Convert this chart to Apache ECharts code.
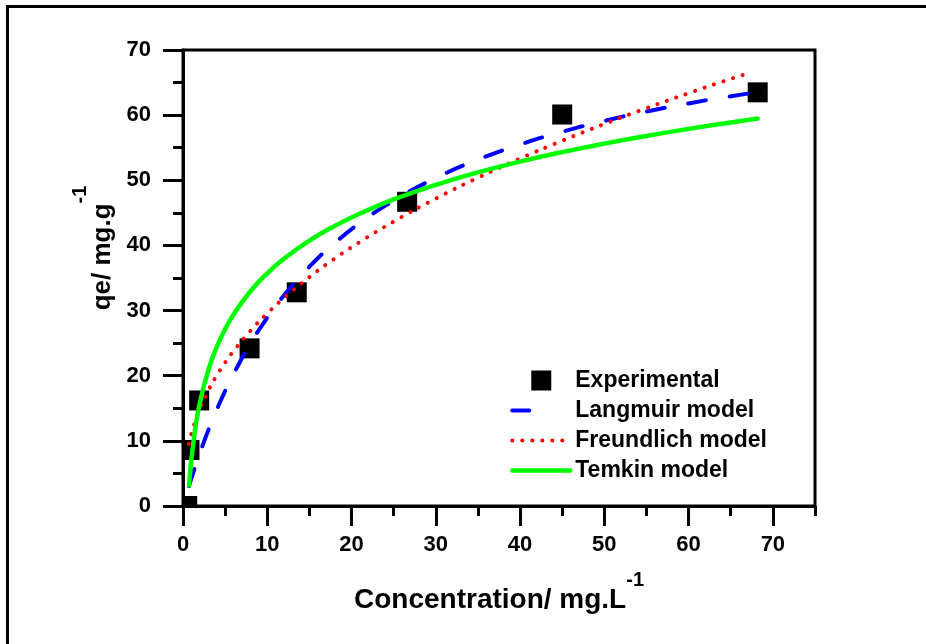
<!DOCTYPE html>
<html>
<head>
<meta charset="utf-8">
<script src="https://cdn.jsdelivr.net/npm/echarts@6/dist/echarts.min.js"></script>
<style>
html,body{margin:0;padding:0;background:#fff;}
#chart{width:926px;height:644px;}
</style>
</head>
<body>
<div id="chart"></div>
<script>
// ---- data ----
const xTickLabels = [0, 10, 20, 30, 40, 50, 60, 70];
const xMajorTicks = [0, 10, 20, 30, 40, 50, 60, 70];
const yTickLabels = [0, 10, 20, 30, 40, 50, 60, 70];

const expX = [0.5, 0.77, 1.92, 7.9, 13.5, 26.6, 45.0, 68.2];
const expY = [0, 8.6, 16.2, 24.2, 32.8, 46.7, 60.1, 63.5];

const langX = [0.7, 1, 1.5, 2, 3, 4, 5, 6, 8, 10, 12, 15, 18, 21, 25, 30, 35, 40, 45, 50, 55, 60, 64, 67.5];
const langY = [3.05, 4.29, 6.26, 8.14, 11.61, 14.77, 17.65, 20.28, 24.93, 28.91, 32.36, 36.73, 40.37, 43.45, 46.87, 50.35, 53.16, 55.49, 57.45, 59.11, 60.55, 61.80, 62.69, 63.4];

const freuX = [0.7, 1, 1.5, 2, 3, 4, 5, 6, 8, 10, 12, 15, 18, 21, 25, 30, 35, 40, 45, 50, 55, 60, 64, 67.3];
const freuY = [9.54, 11.10, 13.19, 14.91, 17.71, 20.02, 22.02, 23.79, 26.89, 29.57, 31.95, 35.14, 37.97, 40.54, 43.66, 47.19, 50.39, 53.33, 56.07, 58.64, 61.07, 63.37, 65.14, 66.5];

const temX = [0.72, 0.85, 1, 1.5, 2, 3, 4, 5, 6, 8, 10, 12, 15, 18, 21, 25, 30, 35, 40, 45, 50, 55, 60, 64, 68.2];
const temY = [3.2, 5.23, 7.24, 12.26, 15.81, 20.83, 24.39, 27.15, 29.40, 32.96, 35.72, 37.98, 40.74, 42.99, 44.90, 47.06, 49.31, 51.22, 52.87, 54.33, 55.63, 56.81, 57.89, 58.69, 59.47];

const seriesNames = ['Experimental', 'Langmuir model', 'Freundlich model', 'Temkin model'];

// ---- chart ----
const FONT = "'Liberation Sans', Arial, Helvetica, sans-serif";
const pairs = (xs, ys) => xs.map((x, i) => [x, ys[i]]);

const chart = echarts.init(document.getElementById('chart'), null, {renderer: 'canvas'});

function renderSquare(params, api) {
  const p = api.coord([api.value(0), api.value(1)]);
  const half = 10;
  const cs = params.coordSys;
  const r = echarts.graphic.clipRectByRect(
    {x: p[0] - half, y: p[1] - half, width: half * 2, height: half * 2},
    {x: cs.x, y: cs.y, width: cs.width, height: cs.height}
  );
  if (!r) return null;
  return {type: 'rect', shape: r, style: {fill: '#000'}};
}

const option = {
  backgroundColor: '#ffffff',
  animation: false,
  textStyle: {fontFamily: FONT},
  graphic: [{
    type: 'rect',
    shape: {x: 7.5, y: 6.5, width: 2000, height: 2000},
    style: {fill: 'none', stroke: '#000', lineWidth: 3},
    silent: true
  }],
  grid: {
    left: 183, right: 111, top: 50, bottom: 138,
    show: true, borderColor: '#000', borderWidth: 3, backgroundColor: 'transparent'
  },
  legend: {
    orient: 'vertical',
    left: 510, top: 369,
    padding: 0,
    itemWidth: 58, itemHeight: 20, itemGap: 7,
    selectedMode: false,
    textStyle: {fontFamily: FONT, fontSize: 23, fontWeight: 'bold', color: '#000', lineHeight: 20},
    data: [
      {name: seriesNames[0], icon: 'path://M0,0H10V10H0Z', itemStyle: {color: '#000'}},
      {name: seriesNames[1], itemStyle: {opacity: 0}, lineStyle: {type: [17, 60], width: 4, opacity: 1, cap: 'round'}},
      {name: seriesNames[2], itemStyle: {opacity: 0}, lineStyle: {type: [0.1, 9.9], width: 4, opacity: 1, cap: 'round'}},
      {name: seriesNames[3], itemStyle: {opacity: 0}, lineStyle: {width: 4.5, opacity: 1}}
    ]
  },
  xAxis: [{
    type: 'value', min: 0, max: 75, interval: 5,
    position: 'bottom',
    axisLine: {show: true, onZero: false, lineStyle: {color: '#000', width: 3}},
    axisTick: {show: true, inside: false, length: 10, lineStyle: {color: '#000', width: 3}},
    axisLabel: {
      show: true, customValues: xTickLabels, margin: 28,
      fontFamily: FONT, fontSize: 22, fontWeight: 'bold', color: '#000'
    },
    splitLine: {show: false},
    name: '{m|Concentration/ mg.L}{s|-1}',
    nameLocation: 'middle', nameGap: 64,
    nameTextStyle: {
      rich: {
        m: {fontFamily: FONT, fontSize: 28, fontWeight: 'bold', color: '#000', verticalAlign: 'bottom'},
        s: {fontFamily: FONT, fontSize: 20, fontWeight: 'bold', color: '#000', lineHeight: 44, verticalAlign: 'top'}
      }
    }
  }, {
    type: 'value', min: 0, max: 75, interval: 10,
    position: 'bottom',
    axisLine: {show: false, onZero: false},
    axisTick: {show: true, inside: false, length: 20, customValues: xMajorTicks, lineStyle: {color: '#000', width: 3}},
    axisLabel: {show: false},
    splitLine: {show: false}
  }],
  yAxis: {
    type: 'value', min: 0, max: 70, interval: 10,
    axisLine: {show: true, onZero: false, lineStyle: {color: '#000', width: 3}},
    axisTick: {show: true, inside: false, length: 20, lineStyle: {color: '#000', width: 3}},
    minorTick: {show: true, splitNumber: 2, length: 10, lineStyle: {color: '#000', width: 3}},
    axisLabel: {
      show: true, customValues: yTickLabels, margin: 32,
      fontFamily: FONT, fontSize: 22, fontWeight: 'bold', color: '#000'
    },
    splitLine: {show: false},
    minorSplitLine: {show: false},
    name: '{m|qe/ mg.g}{s|-1}',
    nameLocation: 'middle', nameRotate: 90, nameGap: 67,
    nameTextStyle: {
      rich: {
        m: {fontFamily: FONT, fontSize: 26, fontWeight: 'bold', color: '#000', verticalAlign: 'bottom', padding: [0, 0, 0, 60]},
        s: {fontFamily: FONT, fontSize: 20, fontWeight: 'bold', color: '#000', lineHeight: 45, verticalAlign: 'top'}
      }
    }
  },
  series: [{
    name: seriesNames[0],
    type: 'custom',
    coordinateSystem: 'cartesian2d',
    xAxisIndex: 0,
    renderItem: renderSquare,
    encode: {x: 0, y: 1},
    itemStyle: {color: '#000'},
    data: pairs(expX, expY)
  }, {
    name: seriesNames[1],
    type: 'line', xAxisIndex: 0,
    symbol: 'none', showSymbol: false,
    smooth: 0.5,
    color: '#0000ff',
    lineStyle: {color: '#0000ff', width: 4, type: [18, 24], cap: 'round'},
    data: pairs(langX, langY)
  }, {
    name: seriesNames[2],
    type: 'line', xAxisIndex: 0,
    symbol: 'none', showSymbol: false,
    smooth: 0.5,
    color: '#ff0000',
    lineStyle: {color: '#ff0000', width: 4, type: [0.1, 9.9], cap: 'round'},
    data: pairs(freuX, freuY)
  }, {
    name: seriesNames[3],
    type: 'line', xAxisIndex: 0,
    symbol: 'none', showSymbol: false,
    smooth: 0.5,
    color: '#00ff00',
    lineStyle: {color: '#00ff00', width: 4.5, type: 'solid', cap: 'round'},
    data: pairs(temX, temY)
  }]
};

chart.setOption(option);
</script>
</body>
</html>
